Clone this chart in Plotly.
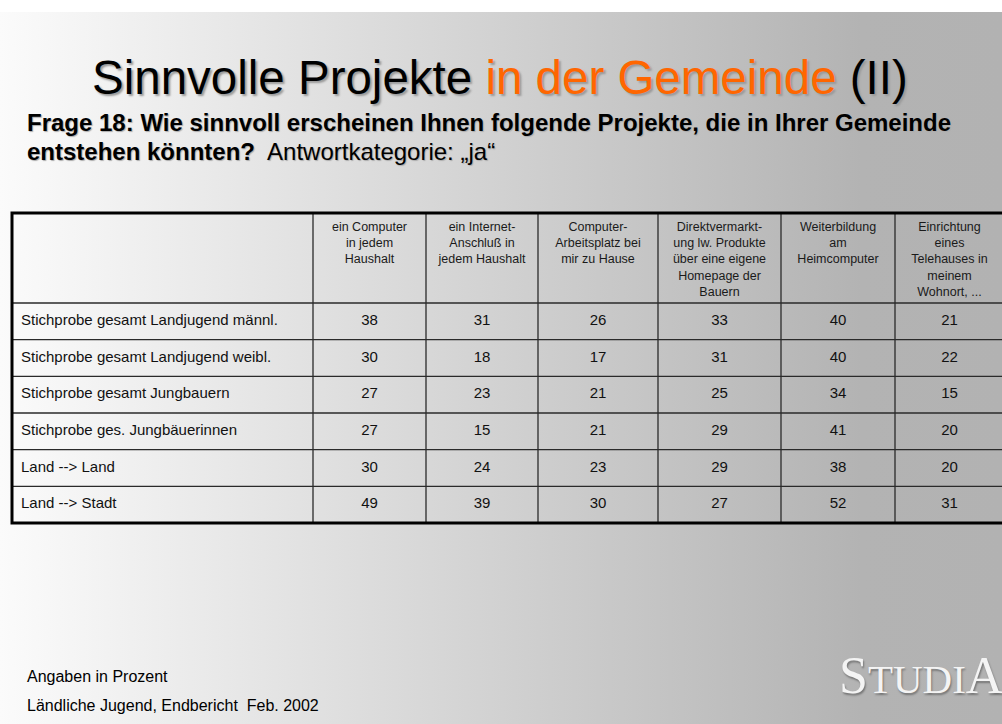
import base64
import plotly.graph_objects as go

# ---------------- data ----------------
row_labels = [
    "Stichprobe gesamt Landjugend männl.",
    "Stichprobe gesamt Landjugend weibl.",
    "Stichprobe gesamt Jungbauern",
    "Stichprobe ges. Jungbäuerinnen",
    "Land --> Land",
    "Land --> Stadt",
]
project_headers = [
    "ein Computer<br>in jedem<br>Haushalt",
    "ein Internet-<br>Anschluß in<br>jedem Haushalt",
    "Computer-<br>Arbeitsplatz bei<br>mir zu Hause",
    "Direktvermarkt-<br>ung lw. Produkte<br>über eine eigene<br>Homepage der<br>Bauern",
    "Weiterbildung<br>am<br>Heimcomputer",
    "Einrichtung<br>eines<br>Telehauses in<br>meinem<br>Wohnort, ...",
]
computer_haushalt = [38, 30, 27, 27, 30, 49]
internet_anschluss = [31, 18, 23, 15, 24, 39]
arbeitsplatz = [26, 17, 21, 21, 23, 30]
direktvermarktung = [33, 31, 25, 29, 29, 27]
weiterbildung = [40, 40, 34, 41, 38, 52]
telehaus = [21, 22, 15, 20, 20, 31]
value_columns = [computer_haushalt, internet_anschluss, arbeitsplatz,
                 direktvermarktung, weiterbildung, telehaus]

title_black1 = "Sinnvolle Projekte "
title_orange = "in der Gemeinde"
title_black2 = " (II)"
subtitle_line1 = "Frage 18: Wie sinnvoll erscheinen Ihnen folgende Projekte, die in Ihrer Gemeinde"
subtitle_line2_bold = "entstehen könnten?"
subtitle_line2_rest = "Antwortkategorie: „ja“"
footer1 = "Angaben in Prozent"
footer2 = "Ländliche Jugend, Endbericht\u00a0 Feb. 2002"

# ---------------- layout (pixel geometry) ----------------
W, H = 1002, 724
FONT = "Liberation Sans, Arial, Helvetica, sans-serif"
table_left, table_top, table_bottom = 12, 213, 523
header_h = 90
col_widths = [301, 113, 112, 120, 123, 114, 120]
col_edges = [table_left]
for w in col_widths:
    col_edges.append(col_edges[-1] + w)
col_centers = [(col_edges[i] + col_edges[i + 1]) / 2 for i in range(len(col_widths))]
col_centers[-1] = (col_edges[-2] + 1002) / 2 + 1
n_rows = len(row_labels)
row_h = (table_bottom - table_top - header_h) / n_rows
row_edges = [table_top + header_h + i * row_h for i in range(n_rows + 1)]
row_centers = [(row_edges[i] + row_edges[i + 1]) / 2 for i in range(n_rows)]

svg = (
    '<svg xmlns="http://www.w3.org/2000/svg" width="1002" height="712" '
    'viewBox="0 0 1002 712" preserveAspectRatio="none">'
    '<defs><linearGradient id="g" x1="0" y1="0" x2="1" y2="0">'
    '<stop offset="0" stop-color="#fbfbfb"/>'
    '<stop offset="0.86" stop-color="#b3b3b3"/>'
    '<stop offset="1" stop-color="#b2b2b2"/>'
    '</linearGradient></defs>'
    '<rect width="1002" height="712" fill="url(#g)"/></svg>'
)
bg_uri = "data:image/svg+xml;base64," + base64.b64encode(svg.encode()).decode()

fig = go.Figure()

# header texts
fig.add_trace(go.Scatter(
    x=col_centers[1:], y=[table_top + 8.5] * len(project_headers),
    text=project_headers, mode="text", textposition="bottom center",
    textfont=dict(family=FONT, size=12.5, color="#1a1a1a"),
    hoverinfo="skip", showlegend=False,
))
# row labels
fig.add_trace(go.Scatter(
    x=[table_left + 9] * n_rows, y=row_centers,
    text=row_labels, mode="text", textposition="middle right",
    textfont=dict(family=FONT, size=15, color="#111111"),
    hoverinfo="skip", showlegend=False,
))
# values
for ci, col in enumerate(value_columns):
    fig.add_trace(go.Scatter(
        x=[col_centers[ci + 1]] * n_rows, y=row_centers,
        text=[str(v) for v in col], mode="text", textposition="middle center",
        textfont=dict(family=FONT, size=15, color="#111111"),
        hoverinfo="skip", showlegend=False,
    ))

shapes = []
for xe in col_edges[1:-1]:
    shapes.append(dict(type="line", xref="x", yref="y", x0=xe, x1=xe,
                       y0=table_top, y1=table_bottom,
                       line=dict(color="#2a2a2a", width=1.3)))
for ye in row_edges[:-1]:
    shapes.append(dict(type="line", xref="x", yref="y", x0=table_left, x1=W + 20,
                       y0=ye, y1=ye, line=dict(color="#2a2a2a", width=1.3)))
shapes.append(dict(type="rect", xref="x", yref="y",
                   x0=table_left, x1=W + 20, y0=table_top, y1=table_bottom,
                   line=dict(color="#000000", width=3), fillcolor="rgba(0,0,0,0)"))

annotations = [
    dict(x=W / 2 - 1, y=77, xanchor="center", yanchor="middle",
         text=title_black1 + "<span style='color:#ff6600'>" + title_orange + "</span>" + title_black2,
         font=dict(family=FONT, size=47.5, color="#000000", shadow="2px 2px 2px #9a9a9a")),
    dict(x=25, y=122.5, xanchor="left", yanchor="middle",
         text="<b>" + subtitle_line1 + "</b>",
         font=dict(family=FONT, size=24, color="#000000", shadow="1px 1px 1px #aaaaaa")),
    dict(x=25, y=151.5, xanchor="left", yanchor="middle",
         text="<b>" + subtitle_line2_bold + "</b>\u00a0 " + subtitle_line2_rest,
         font=dict(family=FONT, size=24, color="#000000", shadow="1px 1px 1px #aaaaaa")),
    dict(x=25, y=676, xanchor="left", yanchor="middle",
         text=footer1, font=dict(family=FONT, size=16, color="#000000")),
    dict(x=25, y=705, xanchor="left", yanchor="middle",
         text=footer2, font=dict(family=FONT, size=16, color="#000000")),
    dict(x=837, y=675, xanchor="left", yanchor="middle",
         text="S<span style='font-size:41px'>TUDI</span>A",
         font=dict(family="Liberation Serif, Times New Roman, serif", size=52,
                   color="#f4f4f4", shadow="1px 2px 2px rgba(0,0,0,0.35)")),
]
for a in annotations:
    a.update(xref="x", yref="y", showarrow=False)

fig.update_layout(
    width=W, height=H,
    margin=dict(l=0, r=0, t=0, b=0),
    paper_bgcolor="#ffffff",
    plot_bgcolor="rgba(0,0,0,0)",
    xaxis=dict(range=[0, W], visible=False, fixedrange=True),
    yaxis=dict(range=[H, 0], visible=False, fixedrange=True),
    images=[dict(source=bg_uri, xref="paper", yref="paper", x=0, y=1 - 12 / H,
                 xanchor="left", yanchor="top", sizex=1, sizey=712 / H,
                 sizing="stretch", layer="below")],
    shapes=shapes,
    annotations=annotations,
)

fig.write_html(
    "out.html",
    config=dict(displayModeBar=False, staticPlot=True),
    post_script="document.body.style.margin='0';document.body.style.overflow='hidden';",
)
